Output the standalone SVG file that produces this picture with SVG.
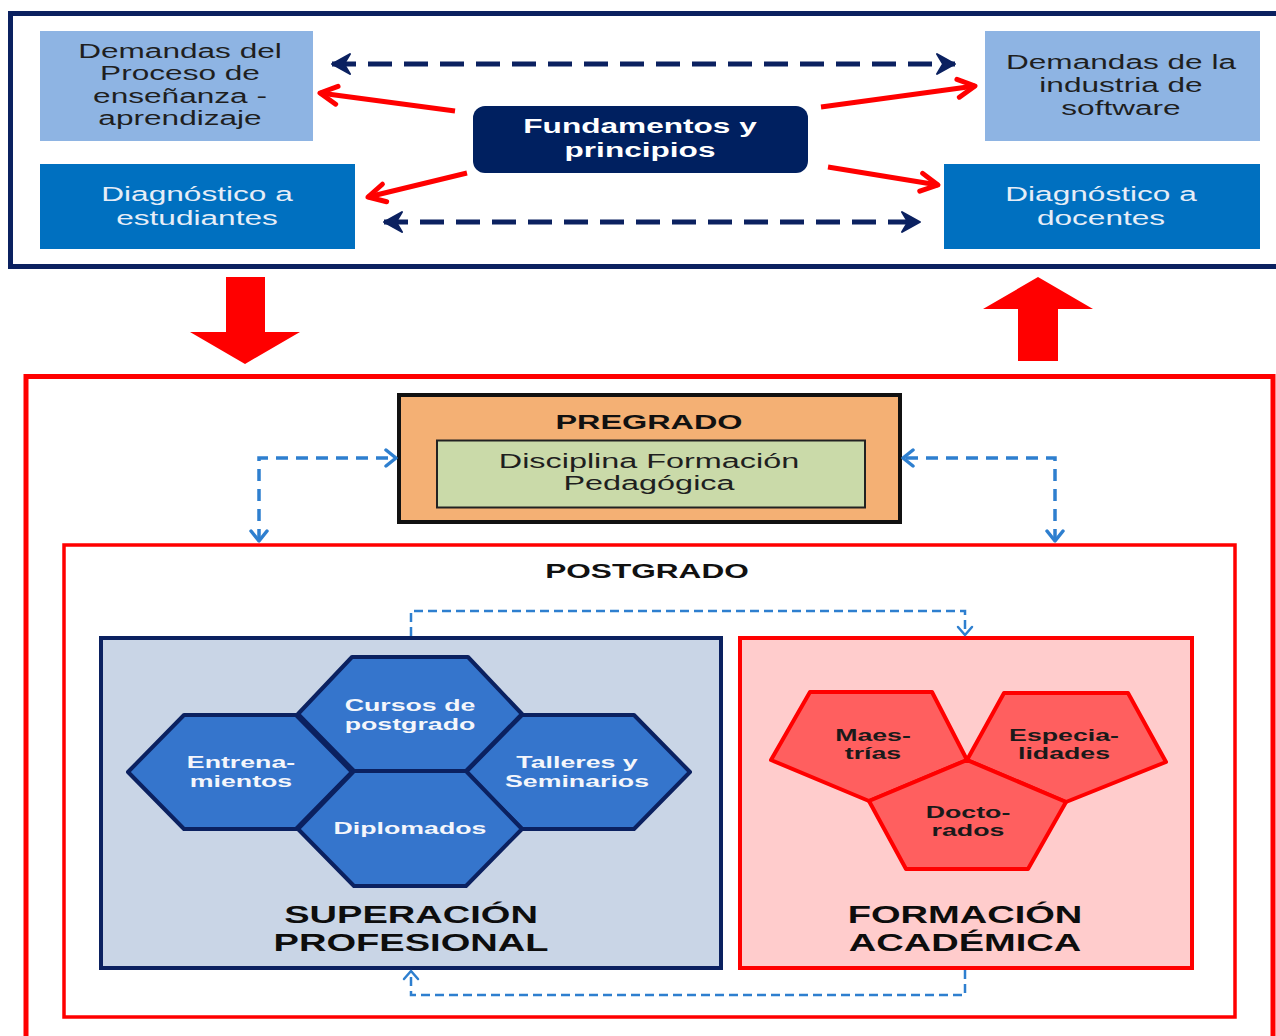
<svg xmlns="http://www.w3.org/2000/svg" width="1276" height="1036" viewBox="0 0 1276 1036">
<style>
text{font-family:"Liberation Sans",Arial,sans-serif;text-anchor:middle}
.reg{font-size:19.5px;fill:#1f1f1f}
.regw{font-size:19.5px;fill:#e6edf7}
.bw{font-size:19.5px;font-weight:bold;fill:#ffffff}
.hdr{font-size:20px;font-weight:bold;fill:#111}
.hex{fill:#3575cc;stroke:#0b2160;stroke-width:4;stroke-linejoin:round}
.hext{font-size:16.5px;font-weight:bold;fill:#f4f6fb}
.pent{fill:#ff5f5f;stroke:#ff0000;stroke-width:4;stroke-linejoin:round}
.pentt{font-size:16.5px;font-weight:bold;fill:#1a1a1a}
.big{font-size:23.5px;font-weight:bold;fill:#0d0d0d}
.navyd{fill:none;stroke:#0b2160;stroke-width:5;stroke-dasharray:24 12}
.redl{fill:none;stroke:#ff0000;stroke-width:5}
.blued{fill:none;stroke:#2e7fcf;stroke-width:3.5;stroke-dasharray:12 8}
.blued2{fill:none;stroke:#2e7fcf;stroke-width:2.5;stroke-dasharray:9 5}
</style>
<defs>
<marker id="mNavy" markerUnits="userSpaceOnUse" viewBox="-20 -12 22 24" refX="0" refY="0" markerWidth="22" markerHeight="24" orient="auto-start-reverse">
<path d="M0 0 L-18 -10 L-12 0 L-18 10 Z" fill="#0b2160" stroke="#0b2160" stroke-width="2" stroke-linejoin="round"/>
</marker>
<marker id="mRed" markerUnits="userSpaceOnUse" viewBox="-22 -14 26 28" refX="0" refY="0" markerWidth="26" markerHeight="28" orient="auto">
<path d="M-17 -9 L0 0 L-17 9" fill="none" stroke="#ff0000" stroke-width="5" stroke-linecap="round" stroke-linejoin="round"/>
</marker>
<marker id="mBlue" markerUnits="userSpaceOnUse" viewBox="-14 -10 16 20" refX="0" refY="0" markerWidth="16" markerHeight="20" orient="auto-start-reverse">
<path d="M-10 -8 L0 0 L-10 8" fill="none" stroke="#2e7fcf" stroke-width="3.5" stroke-linecap="round" stroke-linejoin="round"/>
</marker>
<marker id="mBlue2" markerUnits="userSpaceOnUse" viewBox="-12 -9 14 18" refX="0" refY="0" markerWidth="14" markerHeight="18" orient="auto-start-reverse">
<path d="M-8 -7 L0 0 L-8 7" fill="none" stroke="#2e7fcf" stroke-width="2.5" stroke-linecap="round" stroke-linejoin="round"/>
</marker>
</defs>
<rect width="1276" height="1036" fill="#ffffff"/>

<!-- top frame -->
<g id="top-frame">
<rect x="10.5" y="13.5" width="1290" height="253" fill="#ffffff" stroke="#0b2160" stroke-width="5"/>
</g>

<g id="demandas-proceso">
<rect x="40" y="31" width="273" height="110" fill="#8eb4e3"/>
<text class="reg" transform="translate(180 0) scale(1.62 1)"><tspan x="0" y="58">Demandas del</tspan><tspan x="0" y="80.5">Proceso de</tspan><tspan x="0" y="103">enseñanza -</tspan><tspan x="0" y="125.5">aprendizaje</tspan></text>
</g>
<g id="diag-estudiantes">
<rect x="40" y="164" width="315" height="85" fill="#0070c0"/>
<text class="regw" transform="translate(197 0) scale(1.62 1)"><tspan x="0" y="201">Diagnóstico a</tspan><tspan x="0" y="225">estudiantes</tspan></text>
</g>
<g id="fundamentos">
<rect x="473" y="106" width="335" height="67" rx="12" fill="#002060"/>
<text class="bw" transform="translate(640 0) scale(1.62 1)"><tspan x="0" y="133.5">Fundamentos y</tspan><tspan x="0" y="157">principios</tspan></text>
</g>
<g id="demandas-industria">
<rect x="985" y="31" width="275" height="110" fill="#8eb4e3"/>
<text class="reg" transform="translate(1121 0) scale(1.62 1)"><tspan x="0" y="69">Demandas de la</tspan><tspan x="0" y="92">industria de</tspan><tspan x="0" y="115">software</tspan></text>
</g>
<g id="diag-docentes">
<rect x="944" y="164" width="316" height="85" fill="#0070c0"/>
<text class="regw" transform="translate(1101 0) scale(1.62 1)"><tspan x="0" y="201">Diagnóstico a</tspan><tspan x="0" y="225">docentes</tspan></text>
</g>

<!-- lower frames -->
<g id="outer-frame">
<rect x="26" y="376.5" width="1247" height="700" fill="none" stroke="#ff0000" stroke-width="5"/>
</g>
<g id="postgrado">
<rect x="64" y="545" width="1171" height="472" fill="none" stroke="#ff0000" stroke-width="3.5"/>
<text class="hdr" style="font-size:19.5px" transform="translate(647 0) scale(1.62 1)" x="0" y="578">POSTGRADO</text>
</g>
<g id="pregrado">
<rect x="399" y="395" width="501" height="127" fill="#f4b074" stroke="#111" stroke-width="4"/>
<text class="hdr" transform="translate(649 0) scale(1.62 1)" x="0" y="429">PREGRADO</text>
</g>
<g id="disciplina">
<rect x="437" y="440.5" width="428" height="67" fill="#cadaa9" stroke="#222" stroke-width="2"/>
<text class="reg" style="font-size:20px" transform="translate(649 0) scale(1.62 1)"><tspan x="0" y="468">Disciplina Formación</tspan><tspan x="0" y="490">Pedagógica</tspan></text>
</g>

<g id="superacion">
<rect x="101" y="638" width="620" height="330" fill="#c9d5e6" stroke="#0b2160" stroke-width="4"/>
<text class="big" transform="translate(411 0) scale(1.62 1)"><tspan x="0" y="923">SUPERACIÓN</tspan><tspan x="0" y="951">PROFESIONAL</tspan></text>
</g>
<g id="entrenamientos">
<polygon class="hex" points="128,772 184,715 296,715 352,772 296,829 184,829"/>
<text class="hext" transform="translate(241 0) scale(1.62 1)"><tspan x="0" y="768">Entrena-</tspan><tspan x="0" y="787">mientos</tspan></text>
</g>
<g id="talleres">
<polygon class="hex" points="466,772 522,715 634,715 690,772 634,829 522,829"/>
<text class="hext" transform="translate(577 0) scale(1.62 1)"><tspan x="0" y="768">Talleres y</tspan><tspan x="0" y="787">Seminarios</tspan></text>
</g>
<g id="cursos">
<polygon class="hex" points="298,714 352,657 468,657 522,714 466,771 354,771"/>
<text class="hext" transform="translate(410 0) scale(1.62 1)"><tspan x="0" y="711">Cursos de</tspan><tspan x="0" y="730">postgrado</tspan></text>
</g>
<g id="diplomados">
<polygon class="hex" points="298,829 354,771 466,771 522,829 466,886 354,886"/>
<text class="hext" transform="translate(410 0) scale(1.62 1)" x="0" y="834">Diplomados</text>
</g>

<g id="formacion">
<rect x="740" y="638" width="452" height="330" fill="#ffcccc" stroke="#ff0000" stroke-width="4"/>
<text class="big" transform="translate(965 0) scale(1.62 1)"><tspan x="0" y="923">FORMACIÓN</tspan><tspan x="0" y="951">ACADÉMICA</tspan></text>
</g>
<g id="maestrias">
<polygon class="pent" points="810,692 932,692 967,760 869,801 771,760"/>
<text class="pentt" transform="translate(873 0) scale(1.62 1)"><tspan x="0" y="741">Maes-</tspan><tspan x="0" y="759">trías</tspan></text>
</g>
<g id="especialidades">
<polygon class="pent" points="1004,693 1128,693 1166,762 1066,802 967,760"/>
<text class="pentt" transform="translate(1064 0) scale(1.62 1)"><tspan x="0" y="741">Especia-</tspan><tspan x="0" y="759">lidades</tspan></text>
</g>
<g id="doctorados">
<polygon class="pent" points="967,760 1066,802 1028,869 906,869 869,801"/>
<text class="pentt" transform="translate(968 0) scale(1.62 1)"><tspan x="0" y="818">Docto-</tspan><tspan x="0" y="836">rados</tspan></text>
</g>

<g id="connectors">
<line class="navyd" x1="332" y1="64" x2="955" y2="64" marker-start="url(#mNavy)" marker-end="url(#mNavy)"/>
<line class="navyd" x1="384" y1="222" x2="920" y2="222" marker-start="url(#mNavy)" marker-end="url(#mNavy)"/>
<line class="redl" x1="455" y1="111" x2="320" y2="93" marker-end="url(#mRed)"/>
<line class="redl" x1="467" y1="173" x2="368" y2="197" marker-end="url(#mRed)"/>
<line class="redl" x1="821" y1="107" x2="975" y2="86" marker-end="url(#mRed)"/>
<line class="redl" x1="828" y1="167" x2="938" y2="185" marker-end="url(#mRed)"/>
<polygon points="226,277 265,277 265,332 300,332 245,364 190,332 226,332" fill="#ff0000"/>
<polygon points="1038,277 1093,309 1058,309 1058,361 1018,361 1018,309 983,309" fill="#ff0000"/>
<path class="blued" d="M259 541 L259 458 L396 458" marker-start="url(#mBlue)" marker-end="url(#mBlue)"/>
<path class="blued" d="M1055 541 L1055 458 L903 458" marker-start="url(#mBlue)" marker-end="url(#mBlue)"/>
<path class="blued2" d="M411 636 L411 611 L965 611 L965 635" marker-end="url(#mBlue2)"/>
<path class="blued2" d="M965 970 L965 995 L411 995 L411 971" marker-end="url(#mBlue2)"/>
</g>
</svg>
